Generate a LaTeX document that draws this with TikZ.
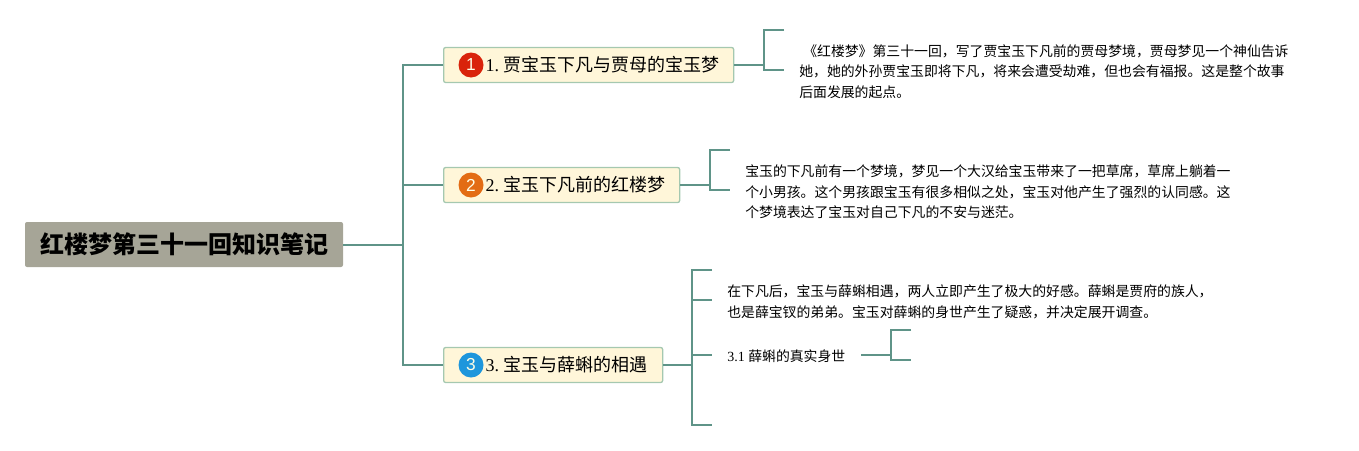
\documentclass[tikz,border=0pt]{standalone}
\usepackage{fontspec}
\setmainfont{Liberation Serif}
\setsansfont{Liberation Sans}
\newfontfamily\cjk{Noto Sans CJK SC}
\definecolor{linkgreen}{HTML}{5F9488}
\definecolor{topicfill}{HTML}{FFF6D9}
\definecolor{topicline}{HTML}{A5C8B0}
\definecolor{rootfill}{HTML}{A6A597}
\definecolor{badgered}{HTML}{D9230B}
\definecolor{badgeorange}{HTML}{E36C14}
\definecolor{badgeblue}{HTML}{1E96DC}
\tikzset{
	link/.style={draw=linkgreen, line width=1.5pt, line join=miter},
	root/.style={fill=rootfill, rounded corners=1.5pt, minimum width=238.5pt, minimum height=33.75pt, inner sep=0pt, font=\fontsize{18}{20}\selectfont\cjk\bfseries},
	topic/.style={draw=topicline, fill=topicfill, line width=1pt, rounded corners=1.5pt, anchor=west, minimum height=26.25pt, inner xsep=0pt, inner ysep=0pt, align=left, font=\fontsize{13.5}{16}\selectfont},
	badge/.style={circle, minimum size=18.75pt, inner sep=0pt, text=white!90!yellow, font=\fontsize{13}{13}\selectfont\sffamily},
	note/.style={anchor=north west, inner sep=0pt, align=left, font=\fontsize{10.4}{15.4}\selectfont\cjk},
}
\begin{document}
\begin{tikzpicture}[x=.75pt,y=-.75pt]
	\useasboundingbox (0,0) rectangle (1359,450);
	% main boxes
	\node[root] (root) at (184,244.5) {\raisebox{-2pt}{红楼梦第三十一回知识笔记}};
	\node[topic,text width=217.5pt] (t1) at (443,65) {\hspace*{31.5pt}\raisebox{-1.75pt}{1.\hspace{3.5pt}{\cjk 贾宝玉下凡与贾母的宝玉梦}}};
	\node[topic,text width=177pt] (t2) at (443,185) {\hspace*{31.5pt}\raisebox{-1.75pt}{2.\hspace{3.5pt}{\cjk 宝玉下凡前的红楼梦}}};
	\node[topic,text width=164.25pt] (t3) at (443,365) {\hspace*{31.5pt}\raisebox{-1.75pt}{3.\hspace{3.5pt}{\cjk 宝玉与薛蝌的相遇}}};
	\node[badge,fill=badgered] (b1) at (471,65) {1};
	\node[badge,fill=badgeorange] (b2) at (471,185) {2};
	\node[badge,fill=badgeblue] (b3) at (471,365) {3};
	% notes
	\node[note] (n1) at (799,44) {\hspace*{3pt}《红楼梦》第三十一回，写了贾宝玉下凡前的贾母梦境，贾母梦见一个神仙告诉\\她，她的外孙贾宝玉即将下凡，将来会遭受劫难，但也会有福报。这是整个故事\\后面发展的起点。};
	\node[note] (n2) at (745,164.5) {宝玉的下凡前有一个梦境，梦见一个大汉给宝玉带来了一把草席，草席上躺着一\\个小男孩。这个男孩跟宝玉有很多相似之处，宝玉对他产生了强烈的认同感。这\\个梦境表达了宝玉对自己下凡的不安与迷茫。};
	\node[note] (n3) at (727,284.5) {在下凡后，宝玉与薛蝌相遇，两人立即产生了极大的好感。薛蝌是贾府的族人，\\也是薛宝钗的弟弟。宝玉对薛蝌的身世产生了疑惑，并决定展开调查。};
	\node[anchor=west,inner sep=0pt,font=\fontsize{10.5}{12}\selectfont] (n4) at (727,356) {3.1 {\cjk\fontsize{10.4}{12}\selectfont 薛蝌的真实身世}};
	% fork points
	\coordinate (f0) at (403,244.5);
	\coordinate (f1) at (764,65);
	\coordinate (f2) at (710,185);
	\coordinate (f3) at (692,365);
	\coordinate (f4) at (891,355);
	\coordinate (s4) at (861,355);
	% connectors
	\draw[link] (root.east) -- (f0);
	\draw[link] (t1.west) -| (f0) |- (t3.west);
	\draw[link] (f0 |- t2.west) -- (t2.west);
	\draw[link] (t1.east) -- (f1);
	\draw[link] (t2.east) -- (f2);
	\draw[link] (t3.east) -- (f3);
	\draw[link] (s4) -- (f4);
	\draw[link] (784,30) -| (f1) |- (784,70);
	\draw[link] (730,150) -| (f2) |- (730,190);
	\draw[link] (712,270) -| (f3) |- (712,425);
	\draw[link] (f3 |- 0,300) -- (712,300);
	\draw[link] (f3 |- 0,355) -- (712,355);
	\draw[link] (911,330) -| (f4) |- (911,360);
\end{tikzpicture}
\end{document}
